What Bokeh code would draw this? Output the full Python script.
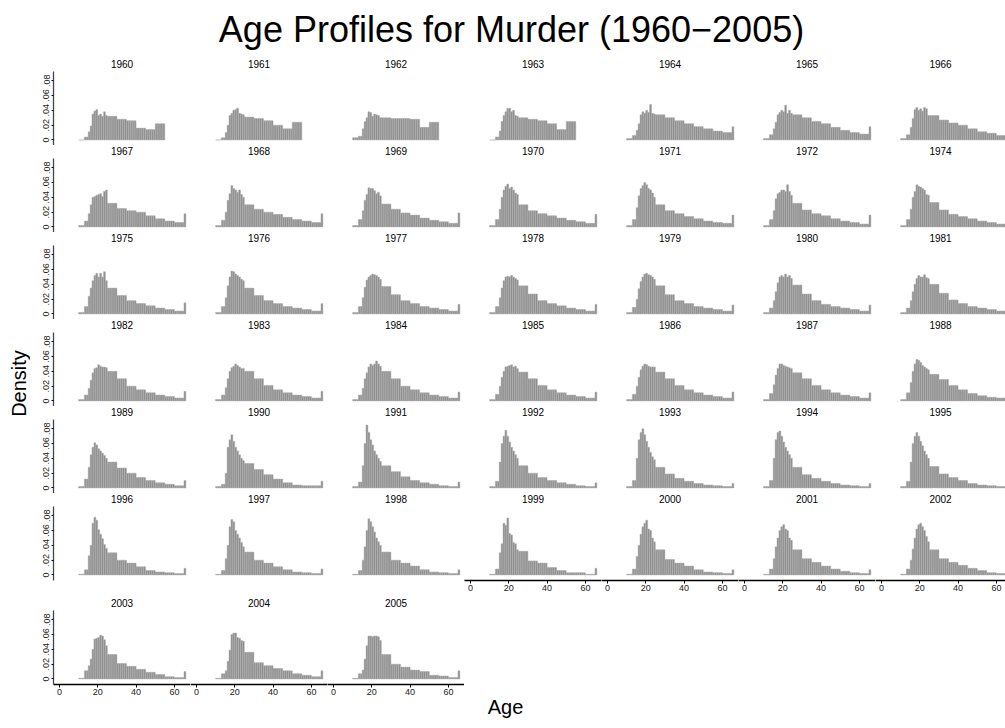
import math
from bokeh.plotting import figure
from bokeh.models import (Range1d, LinearAxis, FixedTicker, CustomJSTickFormatter,
                          Label, ColumnDataSource)
from bokeh.layouts import column, row
from bokeh.embed import file_html
from bokeh.resources import INLINE

FONT = "Liberation Sans"

# UCR age categories: 10-12, 13-14, 15..24 single years, 25-29 ... 60-64, 65+
group_start = [10, 13, 15, 16, 17, 18, 19, 20, 21, 22, 23, 24,
               25, 30, 35, 40, 45, 50, 55, 60, 65]
group_width = [3, 2, 1, 1, 1, 1, 1, 1, 1, 1, 1, 1,
               5, 5, 5, 5, 5, 5, 5, 5, 1]

# density per category (1960-1963 stop at the "50+" group)
v1960 = [0.000, 0.004, 0.011, 0.019, 0.035, 0.039, 0.041, 0.033, 0.035, 0.032, 0.038, 0.033, 0.032, 0.028, 0.026, 0.016, 0.014, 0.022]
v1961 = [0.000, 0.003, 0.010, 0.020, 0.033, 0.036, 0.040, 0.041, 0.043, 0.036, 0.035, 0.034, 0.031, 0.029, 0.026, 0.020, 0.015, 0.024]
v1962 = [0.003, 0.005, 0.015, 0.025, 0.030, 0.038, 0.037, 0.032, 0.035, 0.034, 0.033, 0.030, 0.030, 0.029, 0.029, 0.028, 0.017, 0.024]
v1963 = [0.000, 0.004, 0.012, 0.025, 0.033, 0.038, 0.043, 0.043, 0.038, 0.040, 0.033, 0.032, 0.030, 0.028, 0.026, 0.022, 0.014, 0.025]
v1964 = [0.002, 0.006, 0.013, 0.022, 0.034, 0.038, 0.036, 0.040, 0.037, 0.048, 0.036, 0.035, 0.034, 0.030, 0.026, 0.022, 0.018, 0.015, 0.012, 0.010, 0.018]
v1965 = [0.002, 0.007, 0.015, 0.024, 0.034, 0.037, 0.040, 0.038, 0.047, 0.036, 0.040, 0.036, 0.034, 0.030, 0.025, 0.022, 0.017, 0.013, 0.010, 0.008, 0.018]
v1966 = [0.002, 0.007, 0.017, 0.029, 0.041, 0.044, 0.040, 0.042, 0.039, 0.044, 0.042, 0.033, 0.033, 0.027, 0.023, 0.020, 0.015, 0.011, 0.009, 0.006, 0.010]
v1967 = [0.002, 0.008, 0.018, 0.030, 0.040, 0.041, 0.043, 0.044, 0.045, 0.041, 0.048, 0.050, 0.032, 0.025, 0.022, 0.020, 0.015, 0.011, 0.008, 0.006, 0.018]
v1968 = [0.002, 0.009, 0.020, 0.036, 0.045, 0.056, 0.052, 0.050, 0.047, 0.050, 0.044, 0.040, 0.030, 0.024, 0.020, 0.017, 0.013, 0.010, 0.008, 0.006, 0.018]
v1969 = [0.002, 0.010, 0.022, 0.036, 0.044, 0.053, 0.052, 0.052, 0.049, 0.045, 0.047, 0.042, 0.031, 0.024, 0.019, 0.016, 0.012, 0.009, 0.007, 0.005, 0.019]
v1970 = [0.002, 0.010, 0.024, 0.040, 0.050, 0.055, 0.058, 0.052, 0.054, 0.050, 0.046, 0.044, 0.030, 0.022, 0.018, 0.015, 0.012, 0.009, 0.007, 0.005, 0.017]
v1971 = [0.002, 0.010, 0.026, 0.042, 0.052, 0.056, 0.060, 0.057, 0.052, 0.050, 0.046, 0.040, 0.030, 0.022, 0.018, 0.014, 0.011, 0.008, 0.006, 0.005, 0.016]
v1972 = [0.002, 0.010, 0.022, 0.038, 0.045, 0.047, 0.050, 0.050, 0.048, 0.057, 0.048, 0.043, 0.032, 0.023, 0.018, 0.015, 0.011, 0.008, 0.006, 0.004, 0.016]
v1974 = [0.002, 0.010, 0.024, 0.040, 0.048, 0.057, 0.055, 0.054, 0.052, 0.050, 0.044, 0.043, 0.033, 0.023, 0.017, 0.014, 0.011, 0.008, 0.006, 0.004, 0.010]
v1975 = [0.002, 0.010, 0.024, 0.035, 0.045, 0.052, 0.055, 0.050, 0.055, 0.050, 0.057, 0.045, 0.035, 0.025, 0.018, 0.014, 0.011, 0.008, 0.006, 0.004, 0.015]
v1976 = [0.002, 0.010, 0.022, 0.038, 0.050, 0.058, 0.057, 0.054, 0.052, 0.050, 0.047, 0.045, 0.035, 0.025, 0.018, 0.014, 0.010, 0.008, 0.006, 0.004, 0.014]
v1977 = [0.002, 0.010, 0.022, 0.036, 0.046, 0.050, 0.052, 0.054, 0.053, 0.052, 0.050, 0.047, 0.037, 0.026, 0.018, 0.014, 0.010, 0.008, 0.006, 0.004, 0.013]
v1978 = [0.002, 0.010, 0.022, 0.035, 0.045, 0.050, 0.051, 0.050, 0.052, 0.050, 0.048, 0.046, 0.038, 0.027, 0.018, 0.014, 0.011, 0.008, 0.006, 0.004, 0.013]
v1979 = [0.002, 0.009, 0.020, 0.034, 0.044, 0.050, 0.054, 0.055, 0.053, 0.052, 0.050, 0.047, 0.038, 0.026, 0.018, 0.014, 0.010, 0.008, 0.006, 0.004, 0.012]
v1980 = [0.002, 0.008, 0.018, 0.030, 0.042, 0.050, 0.052, 0.050, 0.054, 0.050, 0.052, 0.048, 0.039, 0.027, 0.018, 0.013, 0.010, 0.008, 0.006, 0.004, 0.012]
v1981 = [0.002, 0.008, 0.018, 0.030, 0.040, 0.048, 0.052, 0.050, 0.050, 0.053, 0.049, 0.048, 0.040, 0.028, 0.019, 0.014, 0.010, 0.008, 0.006, 0.004, 0.012]
v1982 = [0.002, 0.008, 0.017, 0.028, 0.038, 0.044, 0.045, 0.049, 0.047, 0.046, 0.046, 0.045, 0.040, 0.030, 0.020, 0.015, 0.011, 0.008, 0.006, 0.004, 0.013]
v1983 = [0.002, 0.008, 0.018, 0.030, 0.040, 0.045, 0.047, 0.050, 0.048, 0.046, 0.044, 0.044, 0.040, 0.030, 0.021, 0.015, 0.011, 0.008, 0.006, 0.004, 0.013]
v1984 = [0.002, 0.008, 0.017, 0.030, 0.038, 0.046, 0.050, 0.048, 0.050, 0.054, 0.050, 0.047, 0.040, 0.030, 0.020, 0.015, 0.011, 0.008, 0.006, 0.004, 0.012]
v1985 = [0.002, 0.009, 0.020, 0.032, 0.040, 0.046, 0.047, 0.048, 0.049, 0.046, 0.047, 0.044, 0.039, 0.030, 0.021, 0.015, 0.011, 0.008, 0.006, 0.004, 0.012]
v1986 = [0.002, 0.009, 0.020, 0.032, 0.042, 0.047, 0.050, 0.049, 0.047, 0.046, 0.046, 0.046, 0.039, 0.030, 0.021, 0.015, 0.011, 0.008, 0.006, 0.004, 0.012]
v1987 = [0.002, 0.010, 0.022, 0.035, 0.044, 0.050, 0.050, 0.048, 0.047, 0.046, 0.045, 0.044, 0.038, 0.030, 0.021, 0.015, 0.011, 0.008, 0.006, 0.004, 0.011]
v1988 = [0.002, 0.011, 0.025, 0.040, 0.050, 0.056, 0.055, 0.052, 0.048, 0.046, 0.044, 0.042, 0.036, 0.029, 0.021, 0.015, 0.010, 0.007, 0.005, 0.004, 0.011]
v1989 = [0.002, 0.012, 0.028, 0.045, 0.055, 0.061, 0.058, 0.053, 0.050, 0.047, 0.044, 0.040, 0.035, 0.027, 0.020, 0.014, 0.010, 0.007, 0.005, 0.003, 0.010]
v1990 = [0.002, 0.005, 0.020, 0.055, 0.065, 0.072, 0.063, 0.055, 0.050, 0.045, 0.040, 0.037, 0.033, 0.025, 0.018, 0.012, 0.007, 0.004, 0.003, 0.003, 0.009]
v1991 = [0.002, 0.008, 0.030, 0.060, 0.085, 0.075, 0.065, 0.058, 0.050, 0.045, 0.040, 0.036, 0.030, 0.022, 0.015, 0.010, 0.007, 0.005, 0.003, 0.002, 0.008]
v1992 = [0.002, 0.009, 0.035, 0.060, 0.070, 0.078, 0.070, 0.062, 0.055, 0.050, 0.045, 0.040, 0.030, 0.020, 0.014, 0.010, 0.007, 0.005, 0.003, 0.002, 0.007]
v1993 = [0.002, 0.010, 0.040, 0.065, 0.075, 0.080, 0.072, 0.063, 0.055, 0.048, 0.042, 0.038, 0.028, 0.019, 0.013, 0.009, 0.006, 0.004, 0.003, 0.002, 0.006]
v1994 = [0.002, 0.010, 0.040, 0.065, 0.075, 0.077, 0.070, 0.062, 0.055, 0.050, 0.045, 0.040, 0.028, 0.018, 0.013, 0.009, 0.006, 0.004, 0.003, 0.002, 0.006]
v1995 = [0.002, 0.009, 0.035, 0.060, 0.070, 0.075, 0.070, 0.063, 0.057, 0.050, 0.045, 0.040, 0.029, 0.019, 0.014, 0.010, 0.006, 0.004, 0.003, 0.002, 0.007]
v1996 = [0.001, 0.007, 0.026, 0.040, 0.070, 0.078, 0.074, 0.061, 0.055, 0.049, 0.041, 0.036, 0.030, 0.020, 0.016, 0.011, 0.006, 0.004, 0.003, 0.002, 0.009]
v1997 = [0.001, 0.006, 0.022, 0.040, 0.065, 0.075, 0.072, 0.060, 0.055, 0.050, 0.044, 0.038, 0.031, 0.020, 0.016, 0.011, 0.007, 0.004, 0.003, 0.002, 0.008]
v1998 = [0.001, 0.006, 0.020, 0.038, 0.060, 0.076, 0.072, 0.065, 0.058, 0.050, 0.045, 0.040, 0.031, 0.020, 0.016, 0.012, 0.007, 0.004, 0.003, 0.002, 0.007]
v1999 = [0.001, 0.008, 0.030, 0.042, 0.070, 0.067, 0.077, 0.056, 0.054, 0.044, 0.042, 0.034, 0.032, 0.019, 0.016, 0.010, 0.006, 0.003, 0.003, 0.001, 0.009]
v2000 = [0.001, 0.008, 0.025, 0.040, 0.055, 0.065, 0.070, 0.074, 0.062, 0.060, 0.050, 0.045, 0.034, 0.021, 0.016, 0.012, 0.007, 0.004, 0.003, 0.002, 0.007]
v2001 = [0.001, 0.008, 0.022, 0.038, 0.050, 0.060, 0.065, 0.068, 0.062, 0.060, 0.050, 0.047, 0.034, 0.022, 0.017, 0.012, 0.008, 0.005, 0.003, 0.002, 0.007]
v2002 = [0.001, 0.008, 0.020, 0.035, 0.050, 0.062, 0.068, 0.070, 0.065, 0.060, 0.052, 0.045, 0.034, 0.022, 0.017, 0.013, 0.009, 0.006, 0.003, 0.002, 0.008]
v2003 = [0.001, 0.011, 0.018, 0.027, 0.040, 0.054, 0.055, 0.056, 0.059, 0.058, 0.053, 0.045, 0.033, 0.021, 0.017, 0.013, 0.009, 0.006, 0.003, 0.002, 0.010]
v2004 = [0.001, 0.007, 0.011, 0.024, 0.039, 0.060, 0.062, 0.062, 0.056, 0.055, 0.052, 0.051, 0.036, 0.022, 0.018, 0.014, 0.011, 0.007, 0.005, 0.003, 0.011]
v2005 = [0.001, 0.007, 0.012, 0.027, 0.045, 0.058, 0.058, 0.057, 0.058, 0.058, 0.057, 0.052, 0.033, 0.020, 0.016, 0.012, 0.010, 0.005, 0.004, 0.002, 0.011]

panel_rows = [
    [1960, 1961, 1962, 1963, 1964, 1965, 1966],
    [1967, 1968, 1969, 1970, 1971, 1972, 1974],
    [1975, 1976, 1977, 1978, 1979, 1980, 1981],
    [1982, 1983, 1984, 1985, 1986, 1987, 1988],
    [1989, 1990, 1991, 1992, 1993, 1994, 1995],
    [1996, 1997, 1998, 1999, 2000, 2001, 2002],
    [2003, 2004, 2005],
]
series = {y: globals()["v%d" % y] for r in panel_rows for y in r}

x_ticks = [0, 20, 40, 60]
y_ticks = [0, 0.02, 0.04, 0.06, 0.08]
title_text = "Age Profiles for Murder (1960\u22122005)"
x_title = "Age"
y_title = "Density"

PX = 1.916          # pixels per year of age
PY = 740.0          # pixels per unit of density
X0 = -3.1
Y0, Y1 = -0.0075, 0.0925
PLOT_H = 74         # height of the plotted area
TOP = 13            # strip for the year label (inside the frame)
FH = PLOT_H + TOP
HEADER_H = 58
DENS_W = 30
LEFT0 = 23
BAR_FILL = "#8e8e8e"
BAR_LINE = "#b2b2b2"
TOTAL_W = 1005
TOTAL_H = 728


def bars_source(vals):
    left, right, top = [], [], []
    for s, w, v in zip(group_start, group_width, vals):
        for a in range(s, s + w):
            left.append(a)
            right.append(a + 1)
            top.append(v)
    return ColumnDataSource(dict(left=left, right=right, top=top))


def style_axis(ax):
    ax.axis_line_color = "black"
    ax.axis_line_width = 1.3
    ax.major_tick_line_color = "black"
    ax.major_tick_line_width = 1
    ax.major_tick_in = 0
    ax.major_tick_out = 3
    ax.minor_tick_in = 0
    ax.minor_tick_out = 0
    ax.major_label_text_font = FONT
    ax.major_label_text_font_size = "9px"
    ax.major_label_text_color = "#222222"
    ax.major_label_standoff = 1


def make_panel(year, xaxis, yaxis, bottom_pad, fw):
    p = figure(frame_width=fw, frame_height=FH,
               x_range=Range1d(X0, X0 + fw / PX),
               y_range=Range1d(Y0, Y1 + TOP / PY),
               x_axis_location=None, y_axis_location=None,
               output_backend="svg", toolbar_location=None,
               min_border_left=(LEFT0 if yaxis else 0), min_border_right=0,
               min_border_top=0, min_border_bottom=bottom_pad)
    p.outline_line_color = None
    p.grid.visible = False
    p.background_fill_color = "white"
    p.border_fill_color = "white"
    p.quad(left="left", right="right", bottom=0, top="top",
           source=bars_source(series[year]),
           fill_color=BAR_FILL, line_color=BAR_LINE, line_width=0.5)
    p.add_layout(Label(x=fw / 2, y=PLOT_H + 8, x_units="screen", y_units="screen",
                       text=str(year), text_font=FONT, text_font_size="10px",
                       text_align="center", text_baseline="middle", text_color="black"))
    if xaxis:
        ax = LinearAxis(ticker=FixedTicker(ticks=x_ticks))
        style_axis(ax)
        p.add_layout(ax, "below")
    if yaxis:
        ay = LinearAxis(ticker=FixedTicker(ticks=y_ticks), bounds=(Y0, Y1),
                        formatter=CustomJSTickFormatter(
                            code="return tick == 0 ? '0' : tick.toFixed(2).replace(/^0/, '');"))
        style_axis(ay)
        ay.axis_line_color = "#444444"
        ay.major_tick_out = 2
        ay.major_label_standoff = 2
        ay.major_label_orientation = "vertical"
        p.add_layout(ay, "left")
    return p


def blank(w, h):
    p = figure(frame_width=w, frame_height=h, x_range=Range1d(0, w), y_range=Range1d(0, h),
               x_axis_location=None, y_axis_location=None, output_backend="svg",
               toolbar_location=None, min_border=0)
    p.outline_line_color = None
    p.grid.visible = False
    return p


ROW_H = FH
ROW5_H = ROW_H + 17
ROW6_H = TOTAL_H - HEADER_H - 5 * ROW_H - ROW5_H

grid_rows = []
for ri, yrs in enumerate(panel_rows):
    figs = []
    for ci, yr in enumerate(yrs):
        fw = 137 if ci < 6 else TOTAL_W - DENS_W - LEFT0 - 6 * 137
        if ri == 6:
            xaxis, pad = True, ROW6_H - ROW_H
        elif ri == 5:
            xaxis, pad = (ci >= 3), 17
        else:
            xaxis, pad = False, 0
        figs.append(make_panel(yr, xaxis, ci == 0, pad, fw))
    if ri == 6:
        used = LEFT0 + 3 * 137
        filler = blank(TOTAL_W - DENS_W - used, ROW6_H)
        # axis title "Age", centred at x = 505, y = 706 of the page
        filler.add_layout(Label(x=505 - DENS_W - used, y=TOTAL_H - 706,
                                x_units="screen", y_units="screen", text=x_title,
                                text_font=FONT, text_font_size="20px", text_align="center",
                                text_baseline="middle", text_color="black"))
        figs.append(filler)
    grid_rows.append(row(*figs, spacing=0))
grid = column(*grid_rows, spacing=0)

header = blank(TOTAL_W, HEADER_H)
header.add_layout(Label(x=511, y=HEADER_H - 29, x_units="screen", y_units="screen", text=title_text,
                        text_font=FONT, text_font_size="36px", text_align="center",
                        text_baseline="middle", text_color="black"))

dens = blank(DENS_W, TOTAL_H - HEADER_H)
dens.add_layout(Label(x=18, y=TOTAL_H - 383, x_units="screen", y_units="screen",
                      text=y_title, angle=math.pi / 2, text_font=FONT, text_font_size="20px",
                      text_align="center", text_baseline="middle", text_color="black"))

layout = column(header, row(dens, grid, spacing=0), spacing=0)

open("out.html", "w").write(file_html(layout, INLINE, title="Age Profiles for Murder"))
